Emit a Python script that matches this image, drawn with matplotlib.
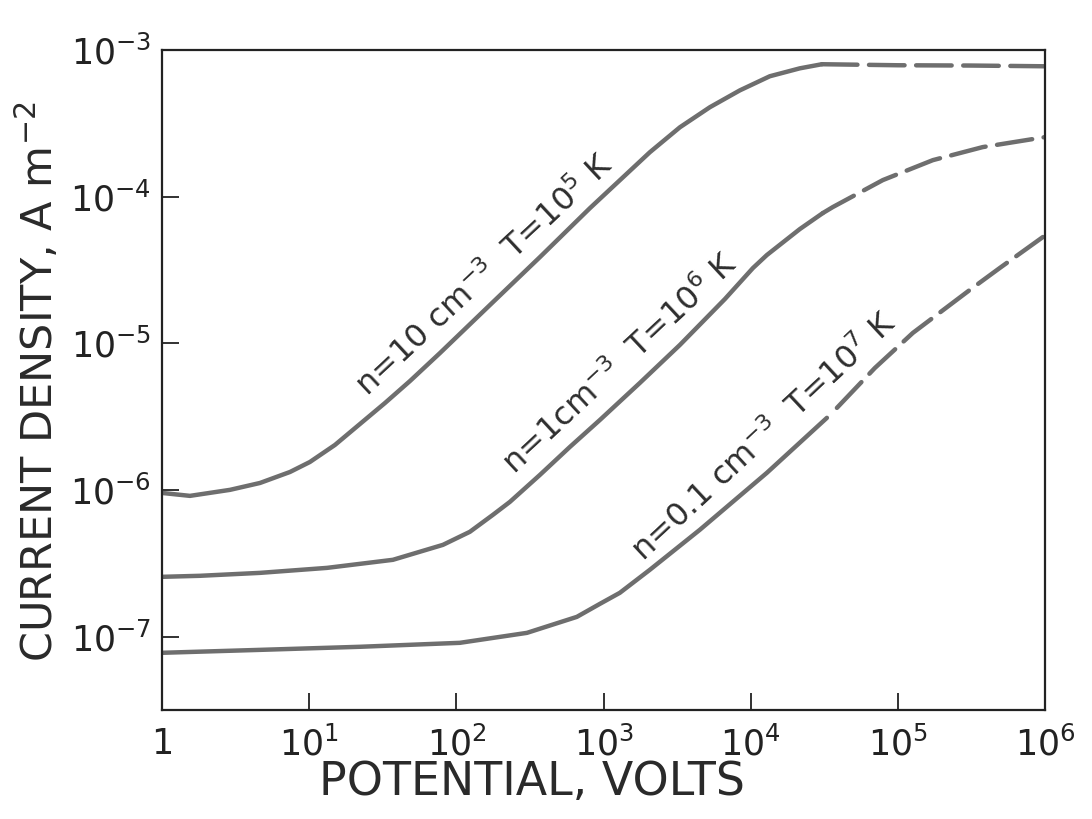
import numpy as np
import matplotlib
matplotlib.use("Agg")
import matplotlib.pyplot as plt

plt.rcParams['font.family'] = ['DejaVu Sans']
plt.rcParams['mathtext.default'] = 'regular'

# ---- data (log10 of potential [V], log10 of current density [A m^-2]) ----
# n = 10 cm^-3, T = 1e5 K
logV_a_solid = [0.000, 0.190, 0.462, 0.666, 0.870, 1.005, 1.175, 1.345, 1.515, 1.685, 1.889,
                2.228, 2.568, 2.908, 3.111, 3.315, 3.519, 3.723, 3.927, 4.130, 4.334, 4.484]
logJ_a_solid = [-6.020, -6.040, -5.999, -5.952, -5.877, -5.809, -5.693, -5.550, -5.407, -5.257, -5.066,
                -4.739, -4.412, -4.078, -3.888, -3.697, -3.527, -3.390, -3.275, -3.179, -3.125, -3.097]
logV_a_dash = [4.484, 5.000, 5.500, 6.000]
logJ_a_dash = [-3.097, -3.104, -3.106, -3.111]

# n = 1 cm^-3, T = 1e6 K
logV_b_solid = [0.000, 0.258, 0.666, 1.121, 1.569, 1.909, 2.092, 2.249, 2.364, 2.568, 2.772,
                2.976, 3.247, 3.519, 3.825, 4.015, 4.110, 4.334, 4.490]
logJ_b_solid = [-6.592, -6.585, -6.565, -6.531, -6.476, -6.374, -6.285, -6.169, -6.081, -5.897, -5.706,
                -5.522, -5.270, -5.011, -4.698, -4.487, -4.398, -4.221, -4.112]
logV_b_dash = [4.490, 4.558, 4.898, 5.238, 5.577, 6.000]
logJ_b_dash = [-4.112, -4.071, -3.887, -3.751, -3.662, -3.594]

# n = 0.1 cm^-3, T = 1e7 K
logV_c_solid = [0.000, 0.666, 1.345, 2.024, 2.480, 2.819, 2.976, 3.111, 3.315, 3.655, 4.110, 4.518]
logJ_c_solid = [-7.110, -7.090, -7.069, -7.042, -6.974, -6.865, -6.776, -6.701, -6.544, -6.271, -5.883, -5.508]
logV_c_dash = [4.586, 4.844, 5.102, 5.489, 5.693, 5.986]
logJ_c_dash = [-5.440, -5.168, -4.929, -4.636, -4.486, -4.275]

curve_labels = [r"n=10 cm$^{-3}$  T=10$^{5}$ K",
                r"n=1cm$^{-3}$  T=10$^{6}$ K",
                r"n=0.1 cm$^{-3}$  T=10$^{7}$ K"]
label_logV = [2.194, 3.118, 4.095]
label_logJ = [-4.535, -5.140, -5.640]

xtick_vals = [1, 1e1, 1e2, 1e3, 1e4, 1e5, 1e6]
xtick_labels = ["1", r"10$^{1}$", r"10$^{2}$", r"10$^{3}$", r"10$^{4}$", r"10$^{5}$", r"10$^{6}$"]
ytick_vals = [1e-7, 1e-6, 1e-5, 1e-4, 1e-3]
ytick_labels = [r"10$^{-7}$", r"10$^{-6}$", r"10$^{-5}$", r"10$^{-4}$", r"10$^{-3}$"]

# ---- figure ----
fig = plt.figure(figsize=(10.92, 8.19), dpi=100)
ax = fig.add_axes([162/1092, 1-710/819, (1045-162)/1092, (710-50)/819])
ax.set_xscale('log')
ax.set_yscale('log')
ax.set_xlim(1, 1e6)
ax.set_ylim(10**-7.5, 10**-3.0)

col = '#6e6e6e'
lw = 3.2
dash = (0, (8, 2.6))

def p(v):
    return 10**np.asarray(v)

for vs, js, vd, jd in [(logV_a_solid, logJ_a_solid, logV_a_dash, logJ_a_dash),
                       (logV_b_solid, logJ_b_solid, logV_b_dash, logJ_b_dash),
                       (logV_c_solid, logJ_c_solid, logV_c_dash, logJ_c_dash)]:
    ax.plot(p(vs), p(js), color=col, lw=lw, solid_capstyle='round', solid_joinstyle='round')
    ax.plot(p(vd), p(jd), color=col, lw=lw, linestyle=dash, dash_capstyle='round')

for txt, lv, lj in zip(curve_labels, label_logV, label_logJ):
    ax.text(10**lv, 10**lj, txt, rotation=43, ha='center', va='center',
            rotation_mode='anchor', fontsize=23, color='#2e2e2e')

ax.set_xticks(xtick_vals)
ax.set_xticklabels(xtick_labels)
ax.set_yticks(ytick_vals)
ax.set_yticklabels(ytick_labels)
ax.minorticks_off()
ax.tick_params(direction='in', length=12, width=1.3, labelsize=25, colors='#222222')
ax.tick_params(axis='x', pad=12)
ax.tick_params(axis='y', pad=8)
for s in ax.spines.values():
    s.set_linewidth(1.6)
    s.set_color('#222222')

fig.text(532/1092, 1-782/819, "POTENTIAL, VOLTS", ha='center', va='center',
         fontsize=33, color='#2a2a2a')
fig.text(38/1092, 1-382/819, r"CURRENT DENSITY, A m$^{-2}$", ha='center', va='center',
         rotation=90, fontsize=31, color='#2a2a2a')

fig.savefig("out.png", dpi=100)
